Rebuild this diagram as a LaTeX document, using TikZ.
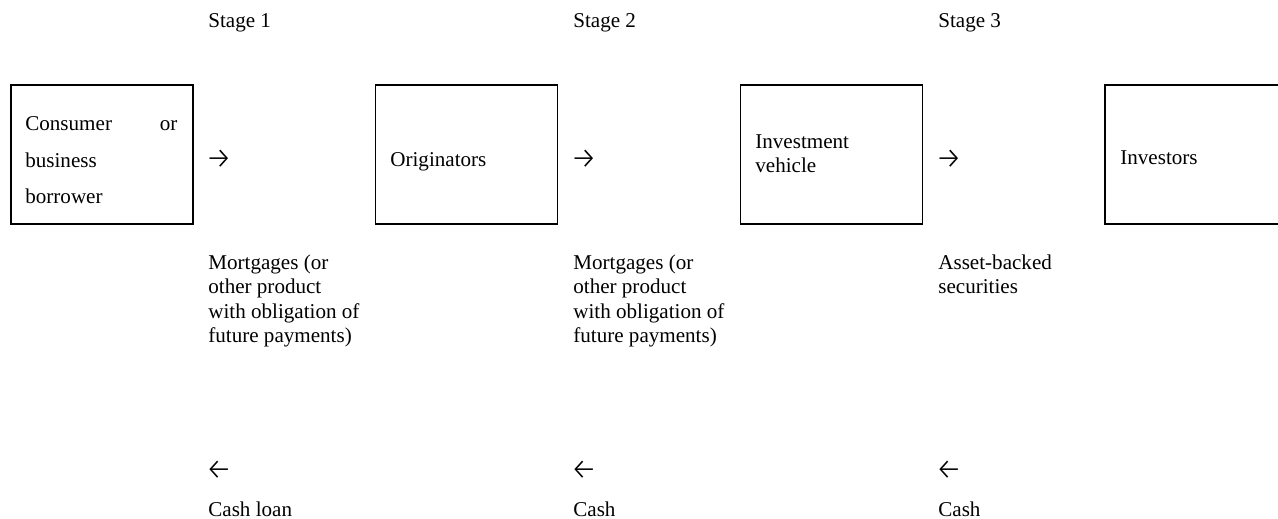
\documentclass[tikz,border=0pt]{standalone}
\usepackage{fontspec}
\setmainfont{Liberation Serif}
\newfontfamily\arrowfont{Fira Sans Light}
\usetikzlibrary{positioning}

\tikzset{
    party/.style={draw, line width=1.1pt, minimum width=3.64cm, minimum height=2.78cm, inner sep=0pt},
    txt/.style={anchor=base west, inner sep=0pt, align=left, font=\fontsize{12}{14}\selectfont},
    glyph/.style={anchor=base west, inner sep=0pt, font=\arrowfont\fontsize{17}{20}\selectfont}
}

\begin{document}
\begin{tikzpicture}[x=0.02cm, y=-0.02cm]
            \clip (0, 0) rectangle (1278, 519);
            % boxes
            \node[party] (borrower) at (102, 154.5) {};
            \node[party] (orig) at (466.5, 154.5) {};
            \node[party] (vehicle) at (831.5, 154.5) {};
            \node[party] (investors) at (1196, 154.5) {};
            % multi-line nodes sit on their last line
            \node[txt, text width=3.04cm, font=\fontsize{12}{20.6}\selectfont] (borrowertxt) at (25, 131) {Consumer\hfill or\\business\\borrower};
            \node[txt] (origtxt) at (390, 167) {Originators};
            \node[txt] (vehicletxt) at (755, 173) {Investment\\vehicle};
            \node[txt] (investorstxt) at (1120, 165) {Investors};
            % stages
            \node[txt] (stage1) at (208, 28) {Stage 1};
            \node[txt] (stage2) at (573, 28) {Stage 2};
            \node[txt] (stage3) at (938, 28) {Stage 3};
            \node[glyph] (fwd1) at (205, 169) {→};
            \node[glyph] (fwd2) at (570, 169) {→};
            \node[glyph] (fwd3) at (935, 169) {→};
            \node[txt] (goods1) at (208, 343) {Mortgages (or\\other product\\with obligation of\\future payments)};
            \node[txt] (goods2) at (573, 343) {Mortgages (or\\other product\\with obligation of\\future payments)};
            \node[txt] (goods3) at (938, 294) {Asset-backed\\securities};
            \node[glyph] (back1) at (205, 480) {←};
            \node[glyph] (back2) at (570, 480) {←};
            \node[glyph] (back3) at (935, 480) {←};
            \node[txt] (cash1) at (208, 517) {Cash loan};
            \node[txt] (cash2) at (573, 517) {Cash};
            \node[txt] (cash3) at (938, 517) {Cash};
        \end{tikzpicture}
\end{document}
